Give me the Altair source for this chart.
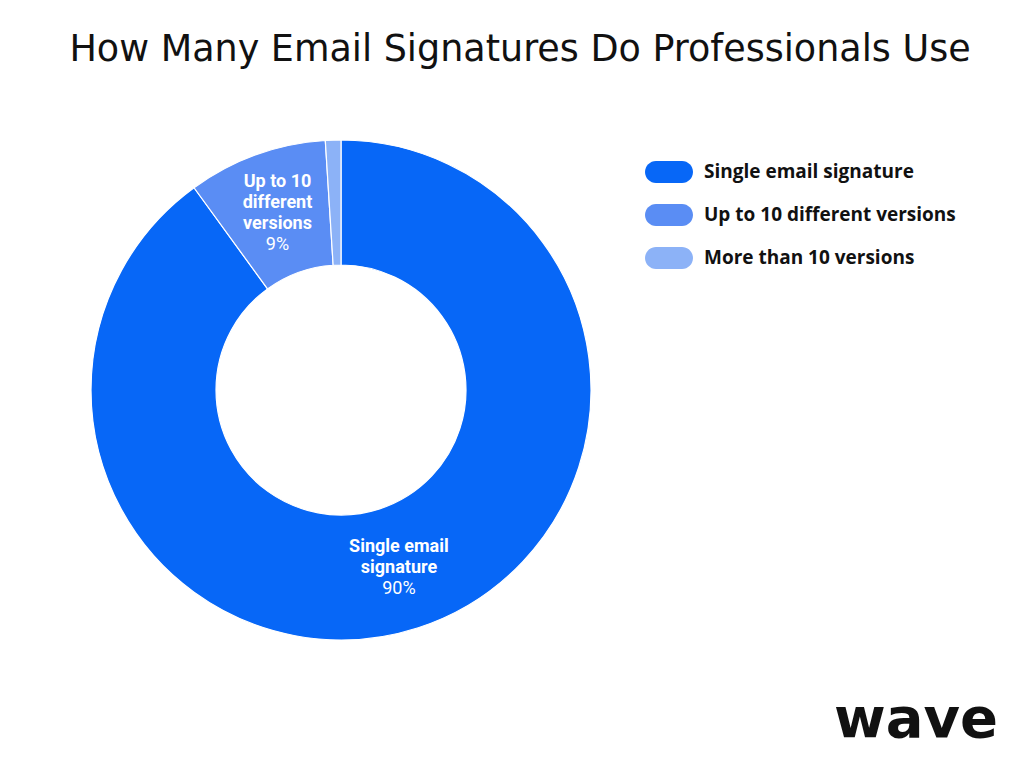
import altair as alt
import pandas as pd

categories = ["Single email signature", "Up to 10 different versions", "More than 10 versions"]
shares = [90, 9, 1]
slice_names = ["Single email\nsignature", "Up to 10\ndifferent\nversions", ""]
slice_pcts = ["90%", "9%", ""]
colors = ["#0767F7", "#5A8DF4", "#8CB2F7"]
order = [0, 1, 2]

df = pd.DataFrame({
    "category": categories, "share": shares, "name": slice_names,
    "pct": slice_pcts, "order": order,
})

CX, CY = 333, 302
R_OUT, R_IN = 250, 125
LH = 21

pill = "M-1.18,-1 L1.18,-1 A1,1 0 0 1 1.18,1 L-1.18,1 A1,1 0 0 1 -1.18,-1 Z"
theta_scale = alt.Scale(domain=[0, 100])

base = alt.Chart(df).transform_stack(
    stack="share", as_=["s0", "s1"], groupby=[], sort=[alt.SortField("order", order="ascending")],
).transform_calculate(
    mid="(datum.s0 + datum.s1) / 2",
    nlines="length(split(datum.name, '\\n')) + 1",
).transform_calculate(
    off_name=f"-(datum.nlines - 1) * {LH} / 2",
    off_pct=f"(datum.nlines - 1) * {LH} / 2",
)

arcs = base.mark_arc(
    innerRadius=R_IN, outerRadius=R_OUT, stroke="white", strokeWidth=1.2
).encode(
    x=alt.value(CX), y=alt.value(CY),
    theta=alt.Theta("s0:Q", scale=theta_scale, stack=None),
    theta2="s1:Q",
    color=alt.Color(
        "category:N",
        scale=alt.Scale(domain=categories, range=colors),
        sort=categories,
        legend=alt.Legend(
            title=None, orient="none", legendX=650, legendY=73,
            symbolType=pill, symbolSize=484, symbolStrokeWidth=0, symbolOpacity=1,
            labelFont="Open Sans", labelFontWeight="bold", labelFontSize=19,
            labelColor="#111111", labelOffset=24, rowPadding=21, padding=0, labelLimit=400,
        ),
    ),
)

names = base.mark_text(
    radius=(R_IN + R_OUT) / 2, font="Roboto", fontWeight="bold", fontSize=18,
    color="white", lineBreak="\n", align="center", baseline="middle", lineHeight=LH,
).encode(
    x=alt.value(CX), y=alt.value(CY), text="name:N",
    theta=alt.Theta("mid:Q", scale=theta_scale, stack=None),
    yOffset=alt.YOffset("off_name:Q", scale=None),
)

pcts = base.mark_text(
    radius=(R_IN + R_OUT) / 2, font="Roboto", fontWeight="normal", fontSize=18,
    color="white", align="center", baseline="middle",
).encode(
    x=alt.value(CX), y=alt.value(CY), text="pct:N",
    theta=alt.Theta("mid:Q", scale=theta_scale, stack=None),
    yOffset=alt.YOffset("off_pct:Q", scale=None),
)

logo = alt.Chart(pd.DataFrame({"t": ["wave"]})).mark_text(
    font="DejaVu Sans", fontWeight="bold", fontSize=56, color="#111111",
    align="right", baseline="alphabetic",
).encode(x=alt.value(990), y=alt.value(649), text="t:N")

chart = alt.layer(arcs, names, pcts, logo).properties(
    width=1008, height=672,
    padding={"left": 0, "top": 80, "right": 0, "bottom": 0},
    autosize=alt.AutoSizeParams(type="none"),
    background="white",
    title=alt.Title(
        "How Many Email Signatures Do Professionals Use",
        font="DejaVu Sans", fontSize=36.5, fontWeight="normal", color="#111111",
        anchor="middle", offset=20, dx=8,
    ),
).configure_view(strokeWidth=0)

chart.save("out.html", embed_options={"renderer": "svg", "actions": False})
